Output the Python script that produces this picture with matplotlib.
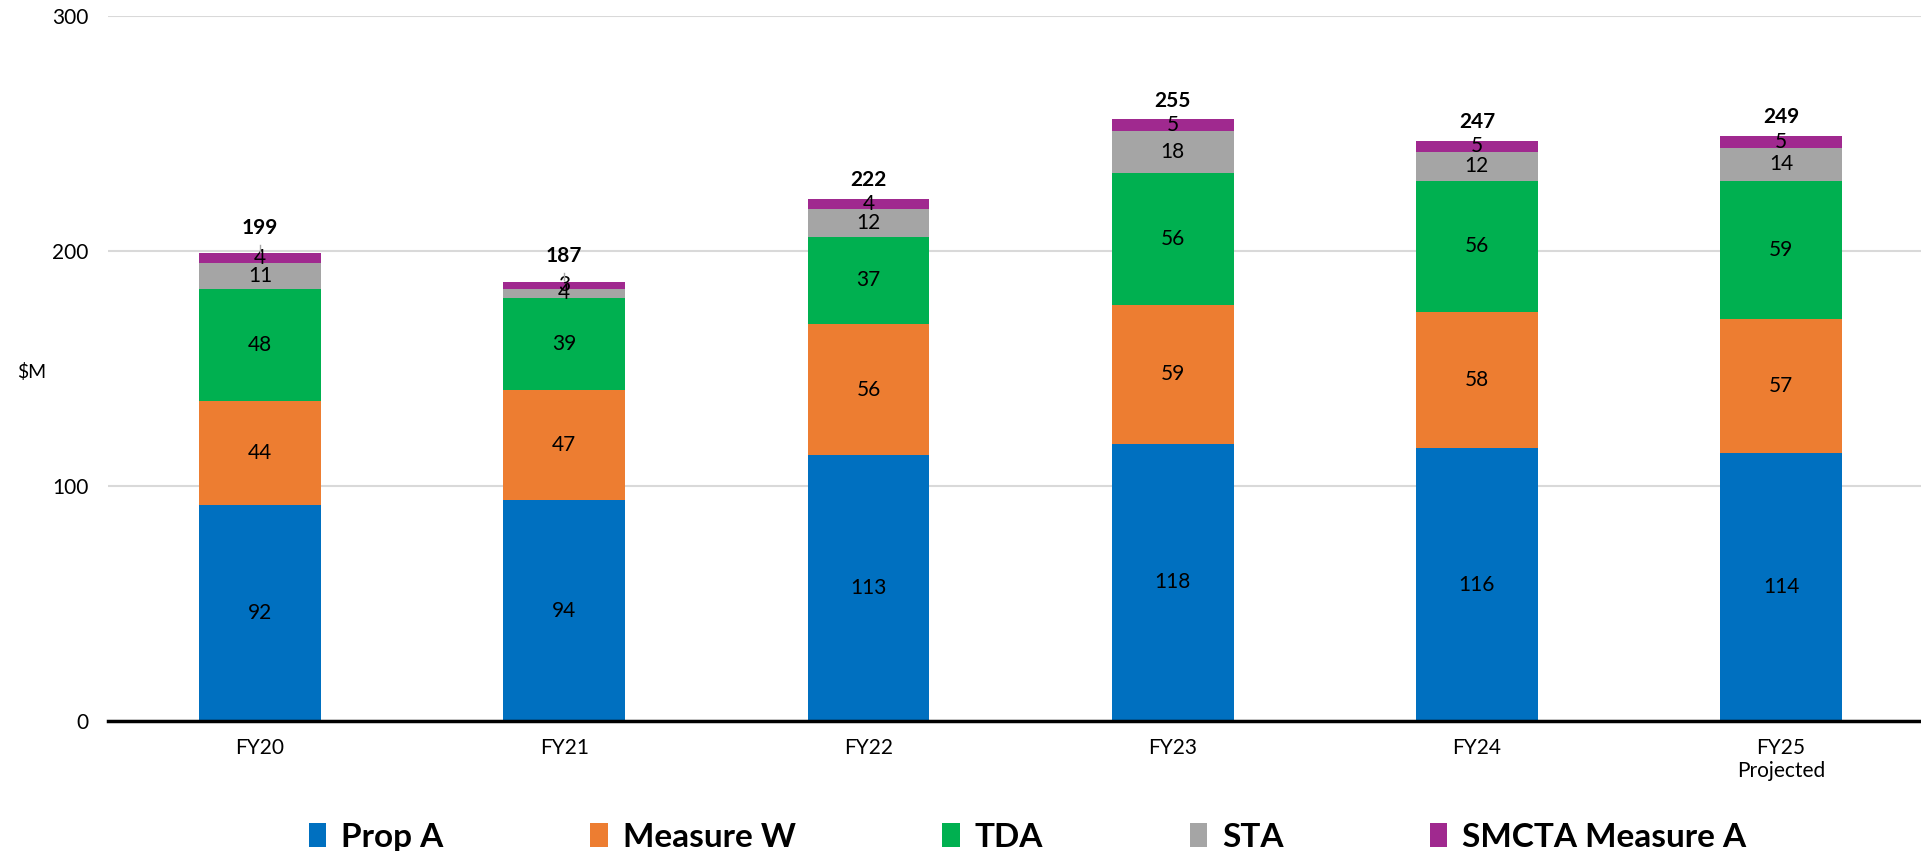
import matplotlib
matplotlib.use("Agg")
import matplotlib.pyplot as plt
import numpy as np

plt.rcParams['font.family'] = ['Lato', 'DejaVu Sans']

years = ["FY20", "FY21", "FY22", "FY23", "FY24", "FY25\nProjected"]
prop_a = [92, 94, 113, 118, 116, 114]
measure_w = [44, 47, 56, 59, 58, 57]
tda = [48, 39, 37, 56, 56, 59]
sta = [11, 4, 12, 18, 12, 14]
smcta = [4, 3, 4, 5, 5, 5]
totals = [199, 187, 222, 255, 247, 249]

series = [
    ("Prop A", prop_a, "#0070C0"),
    ("Measure W", measure_w, "#ED7D31"),
    ("TDA", tda, "#00B050"),
    ("STA", sta, "#A5A5A5"),
    ("SMCTA Measure A", smcta, "#A0298F"),
]

fig = plt.figure(figsize=(19.21, 8.51), dpi=100)
ax = fig.add_axes([108 / 1921, 130 / 851, 1 - 108 / 1921, 705 / 851])

x = np.arange(len(years))
bottom = np.zeros(len(years))
handles = []
for name, vals, color in series:
    vals = np.array(vals, dtype=float)
    bars = ax.bar(x, vals, 0.4, bottom=bottom, color=color, label=name, zorder=3)
    handles.append(bars)
    for xi, b, v in zip(x, bottom, vals):
        ax.text(xi, b + v / 2, f"{v:.0f}", ha="center", va="center",
                fontsize=15, color="black", zorder=4)
    bottom += vals

# small leader lines on the two crowded bars
for i in (0, 1):
    ax.plot([x[i], x[i]], [bottom[i] + 0.5, bottom[i] + 3.5], color="#A6A6A6",
            lw=1, zorder=4)

for xi, top, t in zip(x, bottom, totals):
    off = 11 if xi < 2 else 8
    ax.text(xi, top + off, str(t), ha="center", va="center",
            fontsize=15, fontweight="bold", zorder=4)

ax.set_ylim(0, 300)
ax.set_xlim(-0.5, 5.46)
ax.set_yticks([0, 100, 200, 300])
ax.set_yticklabels(["0", "100", "200", "300"], fontsize=15)
ax.set_xticks(x)
ax.set_xticklabels(years, fontsize=15)
ax.tick_params(axis="y", length=0, pad=14)
ax.tick_params(axis="x", length=0, pad=12)
ax.yaxis.grid(True, color="#D9D9D9", lw=1.5, zorder=0)
ax.set_axisbelow(True)
for s in ("top", "right", "left"):
    ax.spines[s].set_visible(False)
ax.spines["bottom"].set_linewidth(2.5)
ax.spines["bottom"].set_color("black")
ax.spines["bottom"].set_zorder(5)

fig.text(17 / 1921, 1 - 372 / 851, "$M", ha="left", va="center", fontsize=14)

fig.legend(handles=handles, labels=[s[0] for s in series], loc="center",
           bbox_to_anchor=(0.535, 0.016), ncol=5, frameon=False,
           prop={"size": 24, "weight": "bold"}, handlelength=0.52,
           handleheight=0.75, handletextpad=0.45, columnspacing=4.4)

fig.savefig("out.png", dpi=100)
